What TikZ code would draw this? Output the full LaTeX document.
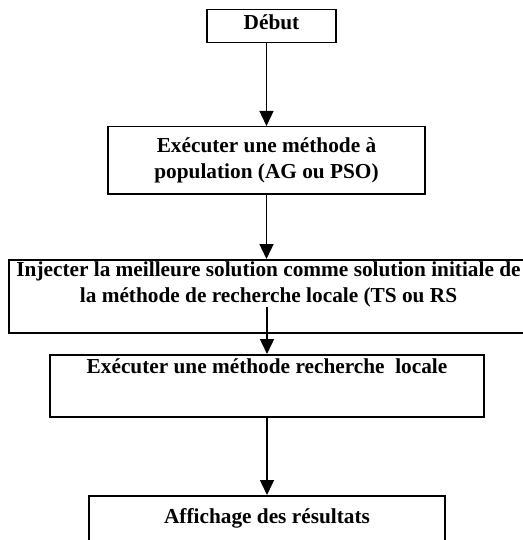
\documentclass[tikz,border=0pt]{standalone}
\usepackage{fontspec}
\setmainfont{Liberation Serif}
\usetikzlibrary{arrows.meta}

\tikzset{
    etape/.style={draw, line width=1.5pt, anchor=north, inner sep=0pt, align=center,
        font=\bfseries\fontsize{21.3}{26}\selectfont},
    fleche/.style={line width=1.4pt, -{Triangle[length=15pt,width=14pt]}}
}

\begin{document}
\begin{tikzpicture}[x=1pt,y=-1pt]
    \useasboundingbox (0,0) rectangle (522,540); % page size
    % the steps
    \node[etape, minimum width=129pt, text height=20pt, text depth=13pt] (debut) at (271.5,9) {Début};
    \node[etape, minimum width=317pt, text height=52pt, text depth=15pt] (pop) at (266.5,126)
        {Exécuter une méthode à\\population (AG ou PSO)};
    \node[etape, minimum width=519pt, text height=43pt, text depth=30pt] (inj) at (268.5,259)
        {Injecter la meilleure solution comme solution initiale de\\la méthode de recherche locale (TS ou RS};
    \node[etape, minimum width=434pt, text height=19pt, text depth=43pt] (loc) at (267,354)
        {Exécuter une méthode recherche \ locale};
    \node[etape, minimum width=356pt, text height=28pt, text depth=34pt] (res) at (267,495)
        {Affichage des résultats};
    \coordinate (injc) at (267,307); % arrow starts inside the box
    % the arrows
    \draw[fleche] (debut.south -| pop.north) -- (pop.north);
    \draw[fleche] (pop.south) -- (pop.south |- inj.north);
    \draw[fleche] (injc) -- (injc |- loc.north);
    \draw[fleche] (loc.south) -- (res.north);
\end{tikzpicture}
\end{document}
